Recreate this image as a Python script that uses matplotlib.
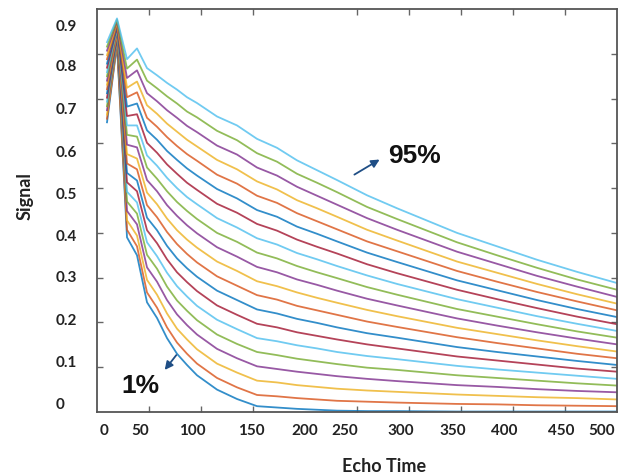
import numpy as np
import matplotlib
matplotlib.use("Agg")
import matplotlib.pyplot as plt

echo_time = [10, 20, 30, 40, 50, 60, 70, 80, 90, 100, 120, 140, 160, 180, 200, 220, 240, 270, 300, 360, 400, 440, 480, 520]

sig_01 = [0.647, 0.820, 0.390, 0.350, 0.245, 0.210, 0.165, 0.130, 0.105, 0.082, 0.050, 0.029, 0.013, 0.010, 0.007, 0.005, 0.003, 0.002, 0.002, 0.001, 0.001, 0.001, 0.001, 0.001]
sig_05 = [0.655, 0.823, 0.407, 0.370, 0.267, 0.233, 0.189, 0.155, 0.130, 0.108, 0.076, 0.055, 0.038, 0.035, 0.031, 0.028, 0.025, 0.023, 0.021, 0.018, 0.017, 0.015, 0.014, 0.013]
sig_10 = [0.664, 0.826, 0.428, 0.394, 0.295, 0.262, 0.220, 0.186, 0.162, 0.140, 0.108, 0.088, 0.070, 0.066, 0.060, 0.056, 0.052, 0.048, 0.045, 0.039, 0.036, 0.033, 0.031, 0.028]
sig_15 = [0.674, 0.829, 0.449, 0.419, 0.323, 0.291, 0.250, 0.218, 0.194, 0.173, 0.141, 0.120, 0.102, 0.096, 0.090, 0.085, 0.080, 0.074, 0.069, 0.060, 0.056, 0.051, 0.047, 0.044]
sig_20 = [0.683, 0.832, 0.470, 0.443, 0.351, 0.320, 0.280, 0.249, 0.226, 0.205, 0.173, 0.152, 0.134, 0.127, 0.119, 0.113, 0.107, 0.099, 0.094, 0.082, 0.076, 0.070, 0.064, 0.059]
sig_25 = [0.693, 0.835, 0.492, 0.468, 0.379, 0.348, 0.311, 0.281, 0.258, 0.237, 0.206, 0.185, 0.165, 0.158, 0.149, 0.142, 0.134, 0.125, 0.118, 0.103, 0.095, 0.088, 0.081, 0.074]
sig_30 = [0.702, 0.838, 0.513, 0.493, 0.406, 0.377, 0.341, 0.312, 0.290, 0.270, 0.238, 0.217, 0.197, 0.189, 0.178, 0.170, 0.162, 0.151, 0.142, 0.124, 0.115, 0.106, 0.097, 0.090]
sig_35 = [0.712, 0.841, 0.534, 0.517, 0.434, 0.406, 0.371, 0.343, 0.321, 0.302, 0.271, 0.250, 0.229, 0.220, 0.208, 0.199, 0.189, 0.176, 0.166, 0.145, 0.134, 0.124, 0.114, 0.105]
sig_40 = [0.721, 0.844, 0.555, 0.542, 0.462, 0.435, 0.402, 0.375, 0.353, 0.334, 0.303, 0.282, 0.261, 0.251, 0.237, 0.227, 0.217, 0.202, 0.190, 0.167, 0.154, 0.142, 0.130, 0.120]
sig_45 = [0.731, 0.848, 0.576, 0.566, 0.490, 0.464, 0.432, 0.406, 0.385, 0.367, 0.336, 0.315, 0.292, 0.281, 0.267, 0.255, 0.244, 0.228, 0.214, 0.188, 0.174, 0.160, 0.147, 0.135]
sig_50 = [0.740, 0.851, 0.597, 0.591, 0.518, 0.493, 0.462, 0.438, 0.417, 0.399, 0.368, 0.347, 0.324, 0.312, 0.296, 0.284, 0.271, 0.253, 0.238, 0.209, 0.193, 0.178, 0.164, 0.151]
sig_55 = [0.750, 0.854, 0.619, 0.615, 0.546, 0.521, 0.493, 0.469, 0.449, 0.431, 0.400, 0.380, 0.356, 0.343, 0.326, 0.312, 0.299, 0.279, 0.262, 0.230, 0.213, 0.196, 0.180, 0.166]
sig_60 = [0.759, 0.857, 0.640, 0.640, 0.573, 0.550, 0.523, 0.500, 0.480, 0.464, 0.433, 0.412, 0.388, 0.374, 0.355, 0.341, 0.326, 0.305, 0.286, 0.252, 0.233, 0.214, 0.197, 0.181]
sig_65 = [0.769, 0.860, 0.661, 0.665, 0.601, 0.579, 0.553, 0.532, 0.512, 0.496, 0.465, 0.445, 0.420, 0.405, 0.385, 0.369, 0.354, 0.330, 0.310, 0.273, 0.252, 0.232, 0.213, 0.196]
sig_70 = [0.778, 0.863, 0.682, 0.689, 0.629, 0.608, 0.583, 0.563, 0.544, 0.528, 0.498, 0.477, 0.451, 0.436, 0.414, 0.398, 0.381, 0.356, 0.335, 0.294, 0.272, 0.250, 0.230, 0.212]
sig_75 = [0.788, 0.866, 0.703, 0.714, 0.657, 0.637, 0.614, 0.594, 0.576, 0.561, 0.530, 0.510, 0.483, 0.467, 0.444, 0.426, 0.408, 0.381, 0.359, 0.315, 0.291, 0.268, 0.247, 0.227]
sig_80 = [0.797, 0.870, 0.724, 0.738, 0.685, 0.666, 0.644, 0.626, 0.608, 0.593, 0.563, 0.542, 0.515, 0.497, 0.473, 0.455, 0.436, 0.407, 0.383, 0.336, 0.311, 0.286, 0.263, 0.242]
sig_85 = [0.807, 0.873, 0.746, 0.763, 0.712, 0.694, 0.674, 0.657, 0.639, 0.625, 0.595, 0.575, 0.546, 0.528, 0.503, 0.483, 0.463, 0.433, 0.407, 0.358, 0.331, 0.304, 0.280, 0.257]
sig_90 = [0.816, 0.876, 0.767, 0.787, 0.740, 0.723, 0.705, 0.689, 0.671, 0.658, 0.628, 0.607, 0.578, 0.559, 0.532, 0.512, 0.491, 0.458, 0.431, 0.379, 0.350, 0.322, 0.296, 0.273]
sig_95 = [0.826, 0.879, 0.788, 0.812, 0.768, 0.752, 0.735, 0.720, 0.703, 0.690, 0.660, 0.640, 0.610, 0.590, 0.562, 0.540, 0.518, 0.484, 0.455, 0.400, 0.370, 0.340, 0.313, 0.288]

curves = [sig_01, sig_05, sig_10, sig_15, sig_20, sig_25, sig_30, sig_35, sig_40, sig_45,
          sig_50, sig_55, sig_60, sig_65, sig_70, sig_75, sig_80, sig_85, sig_90, sig_95]

# tick labels (they sit a bit off the tick marks in the original)
x_labels = ["0", "50", "100", "150", "200", "250", "300", "350", "400", "450", "500"]
x_label_pos = [7, 43, 95, 154, 208, 248, 304, 356, 407, 464, 505]
y_labels = ["0", "0.1", "0.2", "0.3", "0.4", "0.5", "0.6", "0.7", "0.8", "0.9"]
y_label_pos = [0.022, 0.114, 0.208, 0.304, 0.397, 0.491, 0.585, 0.681, 0.775, 0.866]

# matlab default line colours
colors = ["#0072bd", "#d95319", "#edb120", "#7e2f8e", "#77ac30", "#4dbeee", "#a2142f"]

fig = plt.figure(figsize=(6.23, 4.77), dpi=100)
ax = fig.add_axes([0.1557, 0.1342, 0.8347, 0.8448])

for i, vals in enumerate(curves):
    ax.plot(echo_time, vals, color=colors[i % 7], lw=1.3, alpha=0.8)

ax.set_xlim(0, 520)
ax.set_ylim(0, 0.9)

ax.set_xticks(np.arange(52, 520, 52), minor=True)
ax.set_yticks(np.arange(0.1, 0.85, 0.1), minor=True)
ax.set_xticks(x_label_pos, labels=x_labels)
ax.set_yticks(y_label_pos, labels=y_labels)
ax.tick_params(which="major", length=0)
ax.tick_params(which="minor", direction="in", length=4, width=1, color="#666666",
               top=True, right=True)
ax.tick_params(axis="x", which="major", pad=8)
ax.tick_params(axis="y", which="major", pad=29.5)
for lab in ax.get_xticklabels() + ax.get_yticklabels():
    lab.set_fontfamily("Lato")
    lab.set_fontweight("bold")
    lab.set_fontsize(11)
    lab.set_color("#222222")
for lab in ax.get_yticklabels():
    lab.set_ha("left")

for s in ax.spines.values():
    s.set_color("#555555")
    s.set_linewidth(1.3)

fig.text(25 / 623, 1 - 196 / 477, "Signal", rotation=90, ha="center", va="center",
         fontfamily="Lato", fontweight="bold", fontsize=13, color="#222222")
fig.text(384 / 623, 1 - 467 / 477, "Echo Time", ha="center", va="center",
         fontfamily="Lato", fontweight="bold", fontsize=13, color="#222222")

arrow_col = "#1f4e85"
ax.annotate("", xy=(285, 0.567), xytext=(255, 0.527),
            arrowprops=dict(arrowstyle="-|>", color=arrow_col, lw=1.3, mutation_scale=12))
ax.text(291, 0.574, "95%", ha="left", va="center", fontfamily="Liberation Sans",
        fontweight="bold", fontsize=19, color="#111111")
ax.annotate("", xy=(66, 0.089), xytext=(81, 0.132),
            arrowprops=dict(arrowstyle="-|>", color=arrow_col, lw=1.3, mutation_scale=12))
ax.text(43, 0.060, "1%", ha="center", va="center", fontfamily="Liberation Sans",
        fontweight="bold", fontsize=19, color="#111111")

fig.savefig("out.png", dpi=100)
